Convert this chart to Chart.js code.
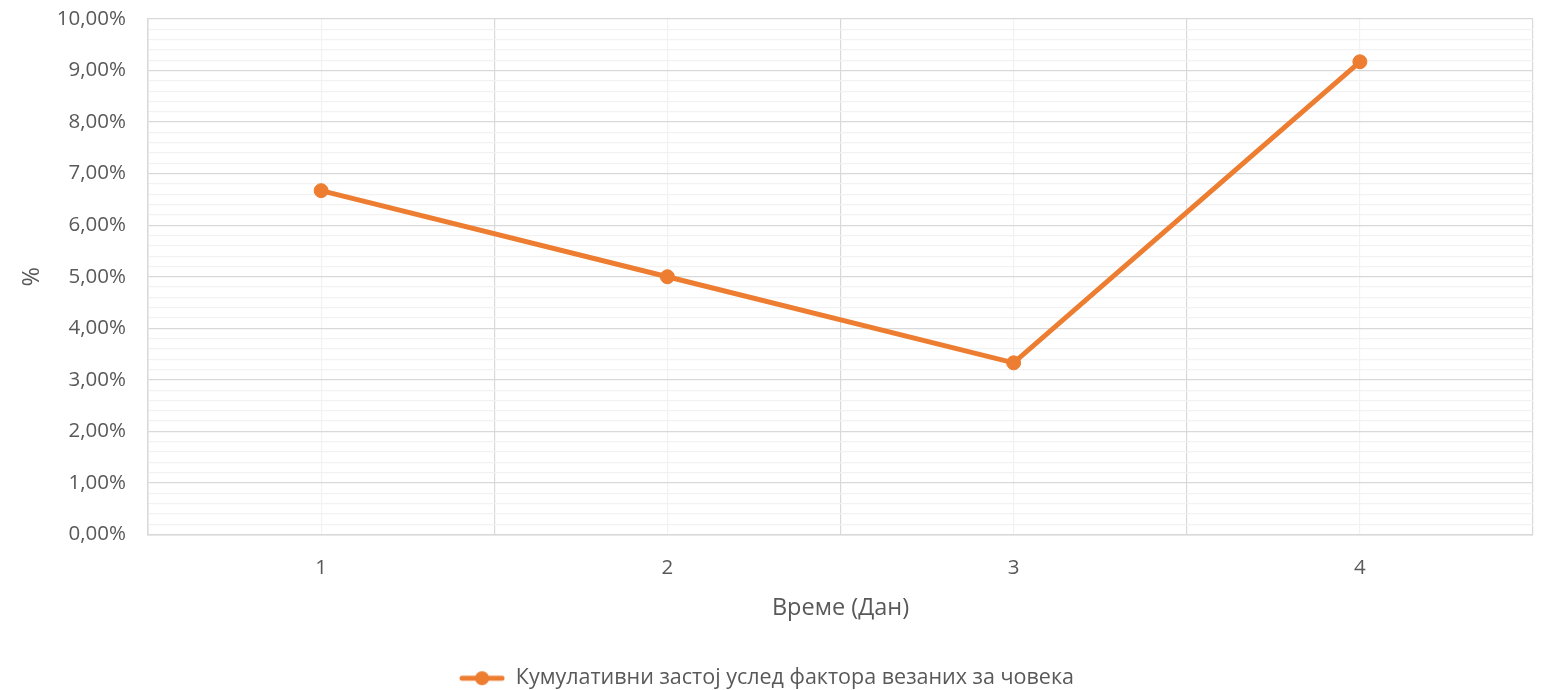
<!DOCTYPE html>
<html>
<head>
<meta charset="utf-8">
<script src="https://cdn.jsdelivr.net/npm/chart.js@4.4.1/dist/chart.umd.min.js"></script>
<style>
  html, body { margin: 0; padding: 0; background: #ffffff; }
  #wrap { width: 1541px; height: 690px; }
</style>
</head>
<body>
<div id="wrap"><canvas id="chart" width="1541" height="690"></canvas></div>
<script>
// Days on the horizontal axis
const categories = ['1', '2', '3', '4'];
// Cumulative downtime (%) per day
const values = [6.67, 5.00, 3.33, 9.17];
// Value axis range and steps (%)
const yMin = 0;
const yMax = 10;
const yMajorStep = 1;
const yMinorStep = 0.2;

const seriesLabel = 'Кумулативни застој услед фактора везаних за човека';
const xTitle = 'Време (Дан)';
const yTitle = '%';

const ORANGE = '#ED7D31';
const MAJOR = '#d9d9d9';
const MINOR = '#f2f2f2';
const TEXT = '#595959';
const FONT = '"Open Sans", sans-serif';

const isWhole = v => Math.abs(v - Math.round(v)) < 1e-6;

// legend marker: short line with a dot in the middle
function legendMarker() {
  const c = document.createElement('canvas');
  c.width = 46; c.height = 16;
  const g = c.getContext('2d');
  g.strokeStyle = ORANGE; g.lineWidth = 5; g.lineCap = 'round';
  g.beginPath(); g.moveTo(3, 8); g.lineTo(43, 8); g.stroke();
  g.fillStyle = ORANGE;
  g.beginPath(); g.arc(23, 8, 7, 0, Math.PI * 2); g.fill();
  return c;
}
const marker = legendMarker();

const points = categories.map((c, i) => ({ x: i + 1, y: values[i] }));

new Chart(document.getElementById('chart'), {
  type: 'line',
  data: {
    datasets: [{
      label: seriesLabel,
      data: points,
      borderColor: ORANGE,
      backgroundColor: ORANGE,
      borderWidth: 5,
      pointRadius: 7,
      pointBorderWidth: 1,
      pointBackgroundColor: ORANGE,
      pointBorderColor: ORANGE,
      tension: 0
    }]
  },
  options: {
    responsive: false,
    animation: false,
    layout: { padding: { top: 19, right: 8, left: 0, bottom: -9 } },
    plugins: {
      tooltip: { enabled: false },
      legend: {
        position: 'bottom',
        labels: {
          usePointStyle: true,
          pointStyleWidth: 46,
          padding: 2,
          color: TEXT,
          font: { family: FONT, size: 21.5 },
          generateLabels: chart => chart.data.datasets.map((d, i) => ({
            text: d.label,
            pointStyle: marker,
            fillStyle: ORANGE,
            strokeStyle: ORANGE,
            lineWidth: 0,
            fontColor: TEXT,
            datasetIndex: i
          }))
        }
      }
    },
    scales: {
      x: {
        type: 'linear',
        min: 0.5,
        max: categories.length + 0.5,
        afterBuildTicks: s => {
          const t = [];
          for (let v = 0.5; v <= categories.length + 0.5 + 1e-9; v += 0.5) t.push({ value: v });
          s.ticks = t;
        },
        afterFit: s => { s.height = 131; s.paddingLeft = 0; s.paddingRight = 0; },
        grid: {
          drawTicks: false,
          color: ctx => (ctx.tick && Number.isInteger(ctx.tick.value)) ? MINOR : MAJOR,
          lineWidth: 1.2
        },
        border: { display: true, color: MAJOR, width: 1.5 },
        ticks: {
          autoSkip: false,
          maxRotation: 0,
          padding: 21,
          color: TEXT,
          font: { family: FONT, size: 20.5 },
          callback: v => Number.isInteger(v) ? categories[v - 1] : ''
        },
        title: {
          display: true,
          text: xTitle,
          color: TEXT,
          font: { family: FONT, size: 23.5 },
          padding: { top: 0, bottom: 43 }
        }
      },
      y: {
        type: 'linear',
        min: yMin,
        max: yMax,
        afterBuildTicks: s => {
          const t = [];
          const n = Math.round((yMax - yMin) / yMinorStep);
          for (let k = 0; k <= n; k++) t.push({ value: +(yMin + k * yMinorStep).toFixed(4) });
          s.ticks = t;
        },
        afterFit: s => { s.width = 148; s.paddingTop = 0; s.paddingBottom = 0; },
        grid: {
          drawTicks: false,
          color: ctx => (ctx.tick && isWhole(ctx.tick.value / yMajorStep)) ? MAJOR : MINOR,
          lineWidth: 1.2
        },
        border: { display: true, color: MAJOR, width: 1.5 },
        ticks: {
          autoSkip: false,
          padding: 22,
          color: TEXT,
          font: { family: FONT, size: 20.5 },
          callback: v => isWhole(v / yMajorStep) ? v.toFixed(2).replace('.', ',') + '%' : ''
        },
        title: {
          display: true,
          text: yTitle,
          color: TEXT,
          font: { family: FONT, size: 23.5 },
          padding: { top: 18, bottom: 0 }
        }
      }
    }
  }
});
</script>
</body>
</html>
